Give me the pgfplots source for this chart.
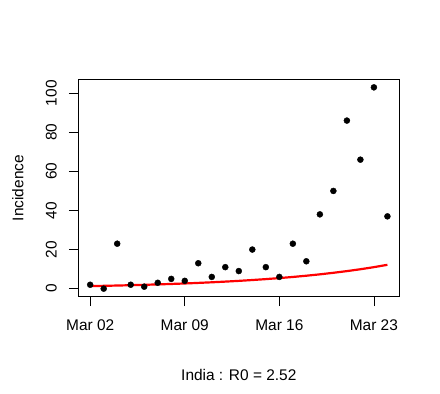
\documentclass[border=0pt]{standalone}
\usepackage{fontspec}
\setmainfont{Liberation Sans}
\usepackage{pgfplots}
\pgfplotsset{compat=1.18}

% observed daily incidence, day 0 = Mar 02
\pgfplotstableread{
day inc
0 2
1 0
2 23
3 2
4 1
5 3
6 5
7 4
8 13
9 6
10 11
11 9
12 20
13 11
14 6
15 23
16 14
17 38
18 50
19 86
20 66
21 103
22 37
}\incid

% fitted curve
\pgfplotstableread{
day fit
0 1.30
1 1.44
2 1.59
3 1.76
4 1.96
5 2.17
6 2.40
7 2.65
8 2.94
9 3.25
10 3.60
11 3.98
12 4.41
13 4.88
14 5.40
15 5.98
16 6.62
17 7.32
18 8.11
19 8.97
20 9.93
21 11.0
22 12.2
}\fitted

\begin{document}
\fontsize{15.5}{18}\selectfont
\begin{tikzpicture}
\useasboundingbox (0,0) rectangle (440bp,394bp);
\begin{axis}[
    at={(78.3bp,97.3bp)}, anchor=south west,
    scale only axis, width=321bp, height=217.4bp,
    xmin=-0.88, xmax=22.88, ymin=-4.12, ymax=107.12,
    xtick={0,7,14,21},
    xticklabels={Mar 02,Mar 09,Mar 16,Mar 23},
    ytick={0,20,40,60,80,100},
    xtick pos=left, ytick pos=left,
    tick align=outside,
    major tick length=9.5bp,
    axis line style={line width=0.8bp},
    every tick/.style={black, line width=0.8bp},
    /pgf/number format/assume math mode=true,
    tick label style={font=\fontsize{15.5}{18}\selectfont, inner sep=0pt},
    xticklabel style={anchor=base},
    xticklabel shift=24.5bp,
    yticklabel style={rotate=90, anchor=base},
    yticklabel shift=12.1bp,
    xlabel={India : R0 = 2.52},
    ylabel={Incidence},
    label style={font=\fontsize{15.5}{18}\selectfont, inner sep=0pt},
    xlabel style={at={(axis description cs:0.5,-0.3832)}, anchor=base},
    ylabel style={at={(axis description cs:-0.1713,0.5)}, anchor=base, rotate=0},
  ]
  \addplot[only marks, mark=*, mark size=3bp, black] table[x=day, y=inc] {\incid};
  \addplot[red, line width=2.2bp] table[x=day, y=fit] {\fitted};
\end{axis}
\end{tikzpicture}
\end{document}
